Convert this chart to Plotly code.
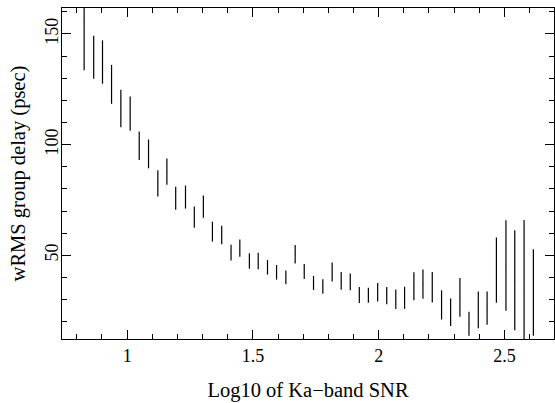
import plotly.graph_objects as go

# Log10 of Ka-band SNR (bin centres)
snr_log = [0.829, 0.867, 0.902, 0.938, 0.975, 1.012, 1.048, 1.085, 1.122, 1.158,
           1.193, 1.232, 1.267, 1.303, 1.339, 1.376, 1.413, 1.448, 1.486, 1.521,
           1.558, 1.594, 1.631, 1.668, 1.704, 1.741, 1.778, 1.815, 1.851, 1.887,
           1.923, 1.959, 1.996, 2.032, 2.068, 2.103, 2.140, 2.176, 2.213, 2.250,
           2.286, 2.323, 2.359, 2.396, 2.431, 2.468, 2.506, 2.541, 2.578, 2.615]
# wRMS group delay (psec)
wrms = [155.0, 139.5, 137.3, 127.2, 116.3, 114.0, 99.5, 95.8, 82.5, 87.8,
        75.8, 76.3, 67.3, 72.0, 60.7, 59.2, 51.2, 53.2, 47.4, 47.4,
        44.6, 42.3, 40.0, 50.5, 42.7, 37.5, 35.9, 42.5, 38.5, 38.0,
        32.1, 32.0, 33.3, 31.8, 30.2, 30.8, 36.0, 37.0, 35.6, 27.6,
        24.3, 31.0, 19.1, 25.3, 26.1, 43.3, 45.4, 38.7, 33.0, 33.2]
# error (half-length of bar)
wrms_err = [21.4, 9.7, 9.8, 8.8, 8.5, 7.7, 6.4, 6.5, 5.9, 5.9,
            5.2, 5.2, 4.8, 5.0, 4.5, 4.2, 3.6, 3.9, 3.5, 3.7,
            3.3, 3.3, 3.1, 4.2, 3.4, 3.2, 3.3, 4.3, 4.0, 3.8,
            3.6, 3.4, 4.2, 3.9, 4.4, 5.0, 6.3, 6.6, 6.9, 6.6,
            6.2, 8.8, 5.4, 8.3, 7.5, 14.7, 20.4, 22.6, 33.0, 19.5]

x_tickvals = [1, 1.5, 2, 2.5]
x_ticktext = ["1", "1.5", "2", "2.5"]
y_tickvals = [50, 100, 150]
y_ticktext = ["50", "100", "150"]

FONT = "Liberation Serif"

fig = go.Figure()
fig.add_trace(go.Scatter(
    x=snr_log, y=wrms, mode="markers",
    marker=dict(size=1, color="rgba(0,0,0,0.3)"),
    error_y=dict(type="data", array=wrms_err, visible=True,
                 width=0, thickness=1.2, color="black"),
    showlegend=False, cliponaxis=True,
))

axis_common = dict(
    showgrid=False, zeroline=False, showline=True, linecolor="black",
    linewidth=1, mirror="allticks", ticks="inside", ticklen=9,
    tickcolor="black", tickwidth=1,
    tickfont=dict(family=FONT, size=18, color="black"),
)

fig.update_xaxes(
    range=[0.741, 2.697], tickmode="array", tickvals=x_tickvals,
    ticktext=x_ticktext,
    minor=dict(ticks="inside", ticklen=5, dtick=0.1, tick0=0,
               tickcolor="black", tickwidth=1, showgrid=False),
    title=dict(text="Log10 of Ka\u2212band SNR",
               font=dict(family=FONT, size=20.5, color="black"), standoff=18),
    **axis_common,
)
fig.update_yaxes(
    range=[12.2, 161.7], tickmode="array", tickvals=y_tickvals,
    ticktext=y_ticktext, tickangle=-90, ticklabelstandoff=-4,
    minor=dict(ticks="inside", ticklen=5, dtick=10, tick0=0,
               tickcolor="black", tickwidth=1, showgrid=False),
    title=dict(text="wRMS group delay (psec)",
               font=dict(family=FONT, size=20.5, color="black"), standoff=10),
    **axis_common,
)

fig.update_layout(
    width=555, height=403,
    margin=dict(l=62, r=1, t=8, b=64),
    plot_bgcolor="white", paper_bgcolor="white",
)

fig.write_html("out.html")
